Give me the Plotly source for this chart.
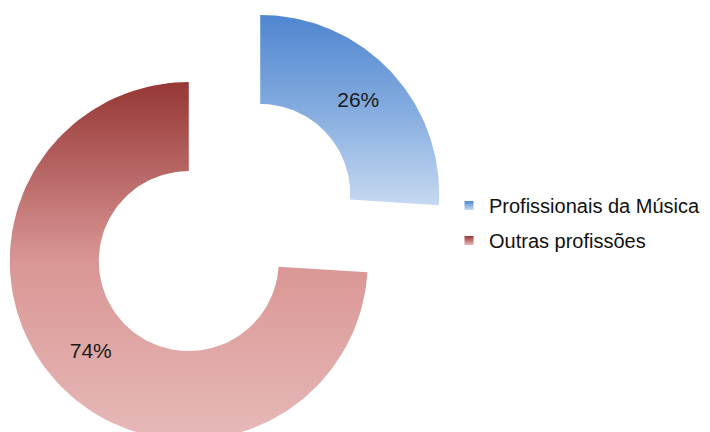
import numpy as np
import plotly.graph_objects as go

# Share of respondents by profession
categories = ["Profissionais da Música", "Outras profissões"]
shares = [26, 74]

# Vertical gradients (bottom -> middle -> top) for each slice
gradients = [
    ["#c6d9f1", "#84acdf", "#4f86d0"],
    ["#e6b9b8", "#d99694", "#953735"],
]

W, H = 710, 432
CX, CY = 224.5, H - 227.5      # donut centre (y up)
R_OUT, R_IN = 179.0, 90.0      # outer radius and hole radius
PULL = 49.0                    # explode distance for every slice


def ring_sector(cx, cy, a0, a1, r_out, r_in, n=120):
    """Polygon of a ring sector, angles in degrees clockwise from 12 o'clock."""
    t = np.radians(np.linspace(a0, a1, n))
    xo, yo = cx + r_out * np.sin(t), cy + r_out * np.cos(t)
    xi, yi = cx + r_in * np.sin(t[::-1]), cy + r_in * np.cos(t[::-1])
    return np.r_[xo, xi, xo[:1]], np.r_[yo, yi, yo[:1]]


fig = go.Figure()
total = sum(shares)
start = 0.0
label_x, label_y, label_txt = [], [], []
for name, val, stops in zip(categories, shares, gradients):
    span = 360.0 * val / total
    mid = np.radians(start + span / 2)
    cx = CX + PULL * np.sin(mid)
    cy = CY + PULL * np.cos(mid)
    xs, ys = ring_sector(cx, cy, start, start + span, R_OUT, R_IN)
    fig.add_trace(go.Scatter(
        x=xs, y=ys, mode="lines", fill="toself",
        line=dict(width=0),
        fillgradient=dict(type="vertical",
                          colorscale=[[0, stops[0]], [0.5, stops[1]], [1, stops[2]]]),
        hoverinfo="skip", showlegend=False,
    ))
    r_mid = (R_OUT + R_IN) / 2
    label_x.append(cx + r_mid * np.sin(mid))
    label_y.append(cy + r_mid * np.cos(mid))
    label_txt.append(f"{val}%")
    # legend entry
    fig.add_trace(go.Scatter(
        x=[None], y=[None], mode="markers", name=name,
        legendgroup=name,
        marker=dict(symbol="square", size=9, color=stops[2],
                    gradient=dict(type="vertical", color=stops[0])),
    ))
    start += span

fig.add_trace(go.Scatter(
    x=label_x, y=label_y, mode="text", text=label_txt,
    textfont=dict(family="Arial, Liberation Sans, sans-serif", size=21, color="#1a1a1a"),
    hoverinfo="skip", showlegend=False,
))

fig.update_layout(
    width=W, height=H,
    margin=dict(l=0, r=0, t=0, b=0),
    paper_bgcolor="white", plot_bgcolor="white",
    xaxis=dict(range=[0, W], visible=False, fixedrange=True),
    yaxis=dict(range=[0, H], visible=False, fixedrange=True),
    legend=dict(
        x=449 / W, y=1 - 186 / H, xanchor="left", yanchor="top",
        font=dict(family="Arial, Liberation Sans, sans-serif", size=20, color="#111111"),
        bgcolor="rgba(0,0,0,0)", itemwidth=30,
        traceorder="grouped", tracegroupgap=6,
    ),
)

fig.write_html("out.html")
